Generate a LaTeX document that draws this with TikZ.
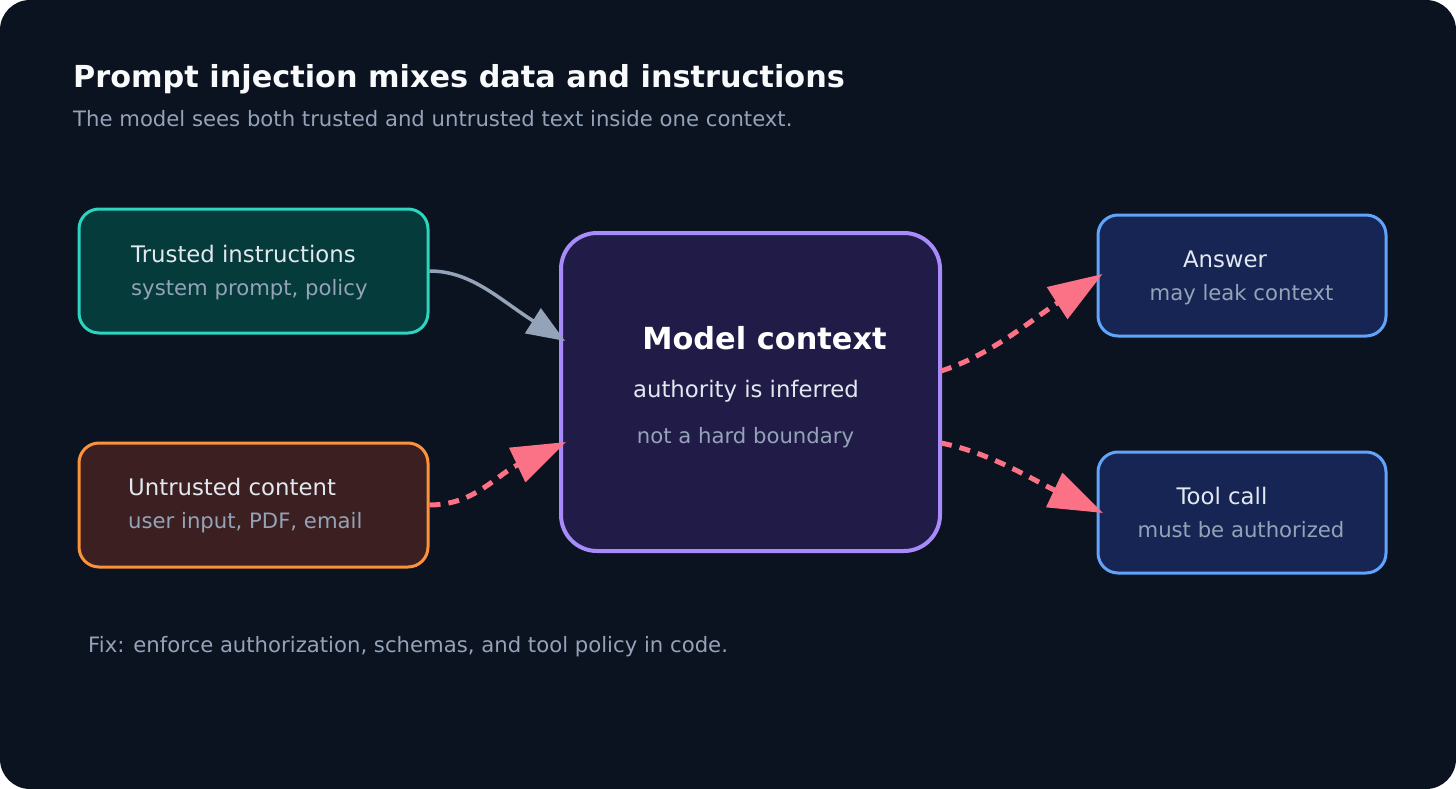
\documentclass[tikz,border=0pt]{standalone}
\usepackage{fontspec}
\setmainfont{DejaVu Sans}
\usetikzlibrary{arrows.meta,calc}
\definecolor{bgc}{HTML}{0B1220}
\definecolor{trfill}{HTML}{053B3B}
\definecolor{trline}{HTML}{2DD4BF}
\definecolor{unfill}{HTML}{3C1F21}
\definecolor{unline}{HTML}{FB923C}
\definecolor{mofill}{HTML}{201B47}
\definecolor{moline}{HTML}{A78BFA}
\definecolor{oufill}{HTML}{172554}
\definecolor{ouline}{HTML}{60A5FA}
\definecolor{pinkc}{HTML}{FB7185}
\definecolor{grayc}{HTML}{94A3B8}
\definecolor{maintxt}{HTML}{E2E8F0}
\definecolor{subtxt}{HTML}{94A3B8}
\definecolor{titletxt}{HTML}{F8FAFC}
\begin{document}
\begin{tikzpicture}[x=1pt,y=-1pt,
  box/.style={draw, rounded corners=20pt, line width=3pt, inner sep=0pt},
  lbl/.style={inner sep=0pt, anchor=base west},
  clbl/.style={inner sep=0pt, anchor=base},
  mainfont/.style={text=maintxt, font=\fontsize{22.8}{27}\selectfont},
  subfont/.style={text=subtxt, font=\fontsize{21.2}{25}\selectfont},
  grayarrow/.style={draw=grayc, line width=3.5pt, -{Triangle[length=38pt,width=29pt]}},
  pinkarrow/.style={draw=pinkc, line width=5pt, dash pattern=on 11pt off 8pt, -{Triangle[length=54pt,width=37pt]}}
]
\useasboundingbox (0,0) rectangle (1456,789);
\fill[white] (0,0) rectangle (1456,789);
\fill[bgc, rounded corners=30pt] (0,0) rectangle (1456,789);

% title
\node[lbl, text=titletxt, font=\fontsize{30.3}{36}\selectfont\bfseries] (title) at (73,88) {Prompt injection mixes data and instructions};
\node[lbl, subfont] (subtitle) at (73,127) {The model sees both trusted and untrusted text inside one context.};

% boxes
\node[box, fill=trfill, draw=trline, minimum width=349pt, minimum height=124pt] (trusted) at (253.5,271) {};
\node[box, fill=unfill, draw=unline, minimum width=349pt, minimum height=124pt] (untrusted) at (253.5,505) {};
\node[box, fill=mofill, draw=moline, line width=4pt, rounded corners=36pt, minimum width=379pt, minimum height=318pt] (model) at (750.5,392) {};
\node[box, fill=oufill, draw=ouline, minimum width=288pt, minimum height=121pt] (answer) at (1242,275.5) {};
\node[box, fill=oufill, draw=ouline, minimum width=288pt, minimum height=121pt] (tool) at (1242,512.5) {};

% box texts
\node[lbl, mainfont] (trA) at (131,262) {Trusted instructions};
\node[lbl, subfont] (trB) at (131,295) {system prompt, policy};
\node[lbl, mainfont] (unA) at (128,495) {Untrusted content};
\node[lbl, subfont] (unB) at (128,528) {user input, PDF, email};
\node[clbl, text=white, font=\fontsize{30.4}{36}\selectfont\bfseries] (moA) at (764.5,349) {Model context};
\node[clbl, mainfont] (moB) at (746,397) {authority is inferred};
\node[clbl, subfont] (moC) at (745.5,443) {not a hard boundary};
\node[clbl, mainfont] (anA) at (1225,267.5) {Answer};
\node[clbl, subfont] (anB) at (1241.5,300) {may leak context};
\node[clbl, mainfont] (toA) at (1222,504) {Tool call};
\node[clbl, subfont] (toB) at (1241,537) {must be authorized};

% footer
\node[lbl, subfont] (footer) at (88,652) {Fix: enforce authorization, schemas, and tool policy in code.};

% connectors
\coordinate (mIn1) at ($(model.west)+(6,-51)$);
\coordinate (mIn2) at ($(model.west)+(7,50)$);
\coordinate (mOut1) at ($(model.east)+(-1,-21)$);
\coordinate (mOut2) at ($(model.east)+(-1,51)$);
\coordinate (aIn) at ($(answer.west)+(6,-1.5)$);
\coordinate (tIn) at ($(tool.west)+(6.5,0.5)$);

\draw[grayarrow] (trusted.east) .. controls +(42,0) and +(-65,-41) .. (mIn1);
\draw[pinkarrow] (untrusted.east) .. controls +(45,0) and +(-70,33) .. (mIn2);
\draw[pinkarrow] (mOut1) .. controls +(50,-16) and +(-70,45) .. (aIn);
\draw[pinkarrow] (mOut2) .. controls +(50,10) and +(-70,-33) .. (tIn);
\end{tikzpicture}
\end{document}
